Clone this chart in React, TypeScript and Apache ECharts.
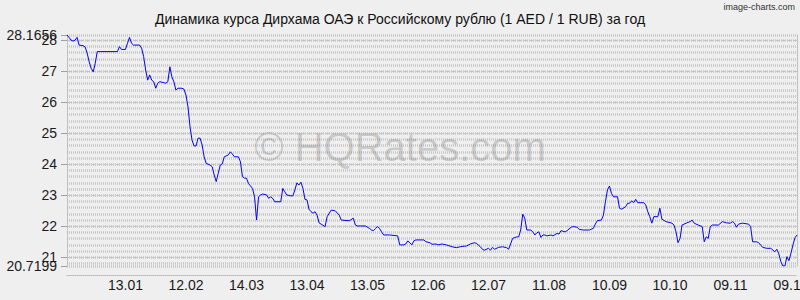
import React, { useEffect, useRef } from 'react';
import * as echarts from 'echarts';

const titleText = 'Динамика курса Дирхама ОАЭ к Российскому рублю (1 AED / 1 RUB) за год';
const watermarkText = '© HQRates.com';
const creditText = 'image-charts.com';

// days since 15.12.2024
const days = [
  0, 1, 2, 3, 4, 5, 6, 8, 9, 10, 11, 12, 13, 14, 15, 25, 26, 27, 29, 30,
  31, 32, 33, 36, 37, 38, 39, 40, 41, 42, 43, 44, 45, 46, 48, 49, 50, 51, 52, 53,
  54, 55, 57, 58, 59, 60, 61, 62, 63, 64, 65, 66, 67, 68, 69, 71, 72, 73, 74, 75,
  76, 77, 78, 80, 81, 82, 83, 85, 86, 87, 88, 89, 90, 91, 92, 93, 94, 95, 96, 97,
  99, 100, 101, 102, 103, 106, 107, 108, 109, 111, 112, 113, 114, 115, 116, 117, 118, 119, 120, 121,
  122, 123, 124, 125, 126, 128, 129, 131, 133, 135, 136, 140, 142, 143, 144, 148, 150, 151, 152, 153,
  154, 155, 156, 157, 160, 164, 165, 167, 168, 169, 171, 172, 173, 177, 178, 180, 181, 183, 184, 186,
  188, 191, 193, 195, 197, 198, 200, 202, 203, 205, 206, 207, 209, 210, 211, 212, 214, 216, 218, 219,
  221, 223, 224, 225, 226, 227, 228, 230, 231, 232, 233, 234, 235, 236, 237, 238, 240, 241, 243, 244,
  245, 247, 248, 250, 251, 253, 254, 256, 259, 261, 262, 263, 265, 266, 267, 268, 269, 270, 271, 273,
  274, 275, 277, 278, 279, 280, 281, 282, 283, 286, 287, 288, 289, 290, 291, 293, 294, 295, 297, 300,
  301, 302, 303, 304, 305, 307, 309, 310, 311, 313, 315, 316, 317, 318, 319, 320, 323, 325, 327, 329,
  330, 331, 332, 333, 335, 338, 339, 340, 342, 343, 345, 347, 349, 351, 352, 353, 354, 355, 356, 357,
  358, 359, 360, 361, 362,
];

const rates = [
  28.1656, 28.09, 28.0, 27.97, 28.0, 28.09, 27.84, 27.82, 27.78, 27.58, 27.3, 27.09, 26.98, 27.25, 27.63, 27.63, 27.79, 27.7, 27.7, 27.9,
  28.09, 27.9, 27.84, 27.84, 27.74, 27.47, 27.04, 26.71, 26.88, 26.71, 26.66, 26.45, 26.61, 26.66, 26.63, 26.61, 26.66, 27.14, 26.82, 26.66,
  26.39, 26.45, 26.45, 26.42, 26.23, 25.85, 25.21, 24.78, 24.59, 24.59, 24.84, 24.84, 24.62, 24.24, 24.03, 23.97, 23.92, 23.65, 23.44, 23.71,
  23.97, 24.01, 24.24, 24.3, 24.4, 24.33, 24.24, 24.24, 24.08, 23.6, 23.55, 23.55, 23.38, 23.3, 23.22, 22.95, 22.2, 22.95, 23.01, 23.04,
  23.01, 22.9, 22.95, 22.9, 22.79, 22.79, 23.22, 23.11, 23.01, 22.98, 22.98, 23.17, 23.4, 23.33, 23.42, 23.22, 22.87, 22.85, 22.55, 22.47,
  22.42, 22.47, 22.36, 22.11, 22.07, 21.99, 22.31, 22.52, 22.5, 22.36, 22.2, 22.18, 22.26, 22.04, 22.01, 22.01, 21.93, 21.88, 21.86, 21.93,
  21.99, 21.93, 21.82, 21.72, 21.72, 21.69, 21.4, 21.4, 21.43, 21.53, 21.4, 21.53, 21.56, 21.56, 21.5, 21.47, 21.42, 21.43, 21.4, 21.43,
  21.4, 21.34, 21.31, 21.34, 21.36, 21.36, 21.43, 21.47, 21.45, 21.34, 21.26, 21.23, 21.29, 21.23, 21.32, 21.26, 21.32, 21.34, 21.31, 21.26,
  21.61, 21.66, 21.66, 21.88, 22.39, 22.26, 21.88, 21.88, 21.82, 21.72, 21.79, 21.82, 21.64, 21.72, 21.72, 21.69, 21.72, 21.69, 21.77, 21.75,
  21.86, 21.82, 21.86, 21.97, 21.99, 21.97, 21.9, 21.88, 21.88, 21.93, 22.07, 22.18, 22.2, 22.36, 22.79, 23.17, 23.3, 23.06, 22.95, 22.95,
  22.58, 22.55, 22.63, 22.74, 22.74, 22.82, 22.76, 22.87, 22.76, 22.76, 22.69, 22.47, 22.31, 22.1, 22.31, 22.31, 22.58, 22.23, 22.15, 22.1,
  22.04, 21.82, 21.47, 21.61, 22.04, 22.1, 22.15, 22.2, 22.1, 22.04, 21.99, 21.5, 21.66, 21.61, 21.99, 22.04, 22.04, 22.15, 22.11, 22.1,
  22.15, 22.1, 21.97, 22.07, 22.1, 22.07, 21.99, 21.5, 21.5, 21.47, 21.32, 21.29, 21.29, 21.18, 21.26, 21.11, 20.86, 20.7199, 20.72, 21.02,
  20.89, 21.13, 21.4, 21.63, 21.72,
];

const xTickDays = [29, 59, 89, 119, 149, 179, 209, 239, 269, 299, 329, 359];
const xTickLabels = ['13.01', '12.02', '14.03', '13.04', '13.05', '12.06', '12.07', '11.08', '10.09', '10.10', '09.11', '09.12'];

const yMin = 20.7199;
const yMax = 28.1656;
const yTickValues = [21, 22, 23, 24, 25, 26, 27, 28];
const yExtentLabels = [20.7199, 28.1656];
const dayMin = 0;
const dayMax = 362;

const FONT = '"Liberation Sans", Arial, sans-serif';

export default function App() {
  const ref = useRef<HTMLDivElement>(null);

  useEffect(() => {
    if (!ref.current) return;
    const chart = echarts.init(ref.current, null, { renderer: 'svg' });
    const dotted = { color: '#b8b8b8', type: [1, 1] as number[], width: 1 };
    const labelStyle = {
      fontSize: 14,
      fontFamily: FONT,
      color: '#1a1a1a',
      margin: 10,
      showMinLabel: true,
      showMaxLabel: true,
      hideOverlap: false,
      formatter: (v: number) => String(v),
    };
    chart.setOption({
      animation: false,
      backgroundColor: '#efefef',
      grid: {
        left: 67,
        right: 3,
        top: 35,
        bottom: 34,
        containLabel: false,
        outerBoundsMode: 'none',
      },
      xAxis: {
        type: 'value',
        min: dayMin,
        max: dayMax,
        offset: 9,
        axisLine: { show: true, lineStyle: dotted },
        axisTick: { show: false },
        splitLine: { show: false },
        axisLabel: {
          customValues: xTickDays,
          formatter: (v: number) => {
            const i = xTickDays.indexOf(Math.round(v));
            return i >= 0 ? xTickLabels[i] : '';
          },
          fontSize: 14,
          fontFamily: FONT,
          color: '#1a1a1a',
          margin: 3,
          showMinLabel: true,
          showMaxLabel: true,
          hideOverlap: false,
        },
      },
      yAxis: [
        {
          type: 'value',
          min: yMin,
          max: yMax,
          position: 'left',
          axisLine: { show: true, lineStyle: dotted },
          axisTick: {
            show: true,
            length: 6,
            customValues: yTickValues,
            lineStyle: { color: '#a0a0a0' },
          },
          axisLabel: { ...labelStyle, customValues: yTickValues },
          splitLine: { show: true, lineStyle: { color: '#c4c4c4', type: [4, 2], width: 1 } },
          z: 1,
        },
        {
          type: 'value',
          min: yMin,
          max: yMax,
          splitNumber: 37,
          position: 'right',
          axisLine: { show: true, lineStyle: dotted },
          axisTick: { show: false },
          axisLabel: { show: false },
          splitLine: { show: true, lineStyle: { color: '#c6c6c6', type: [1, 1], width: 2.5 } },
          z: 0,
        },
        {
          type: 'value',
          min: yMin,
          max: yMax,
          position: 'left',
          axisLine: { show: false },
          axisTick: {
            show: true,
            length: 6,
            customValues: yExtentLabels,
            lineStyle: { color: '#a0a0a0' },
          },
          axisLabel: { ...labelStyle, customValues: yExtentLabels },
          splitLine: { show: false },
          z: 1,
        },
      ],
      graphic: [
        {
          type: 'text',
          x: 400,
          y: 19,
          z: 5,
          style: {
            text: titleText,
            fontSize: 14,
            fontFamily: FONT,
            fill: '#111',
            align: 'center',
            verticalAlign: 'middle',
          },
        },
        {
          type: 'text',
          x: 795,
          y: 7,
          z: 5,
          style: {
            text: creditText,
            fontSize: 9,
            fontFamily: FONT,
            fill: '#333',
            align: 'right',
            verticalAlign: 'middle',
          },
        },
        {
          type: 'text',
          x: 400,
          y: 147,
          z: 1,
          style: {
            text: watermarkText,
            fontSize: 40,
            fontFamily: FONT,
            fill: 'rgba(110,110,110,0.28)',
            align: 'center',
            verticalAlign: 'middle',
          },
        },
      ],
      series: [
        {
          type: 'line',
          data: days.map((d, i) => [d, rates[i]]),
          showSymbol: false,
          symbol: 'none',
          silent: true,
          lineStyle: { color: '#0000ff', width: 1 },
          z: 3,
        },
      ],
    });
    return () => chart.dispose();
  }, []);

  return (
    <div
      ref={ref}
      style={{ position: 'fixed', left: 0, top: 0, width: 800, height: 300 }}
    />
  );
}
